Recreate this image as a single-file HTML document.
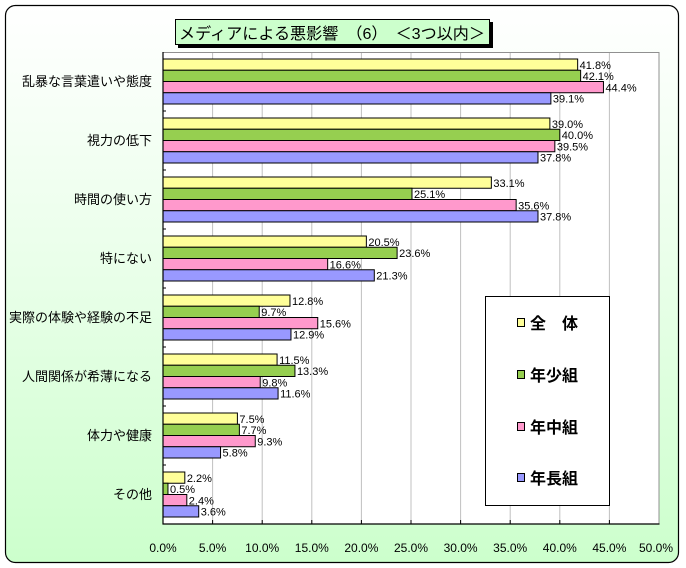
<!DOCTYPE html>
<html><head><meta charset="utf-8"><style>
html,body{margin:0;padding:0;background:#fff;}
svg{display:block;}
</style></head><body>
<svg width="686" height="568" viewBox="0 0 686 568" xmlns="http://www.w3.org/2000/svg">
<defs>
<linearGradient id="bg" x1="0" y1="0" x2="0" y2="1">
<stop offset="0" stop-color="#ffffff"/>
<stop offset="0.5" stop-color="#e8ffe8"/>
<stop offset="1" stop-color="#ccffcc"/>
</linearGradient>
</defs>
<rect x="0" y="0" width="686" height="568" fill="#fff"/>
<rect x="5.5" y="5.5" width="673" height="557" rx="10" ry="10" fill="url(#bg)" stroke="#000" stroke-width="1.2"/>

<!-- plot area -->
<rect x="163" y="52" width="496" height="472" fill="#fff"/>
<g stroke="#c0c0c0" stroke-width="1">
<line x1="212.6" y1="52" x2="212.6" y2="524"/>
<line x1="262.2" y1="52" x2="262.2" y2="524"/>
<line x1="311.8" y1="52" x2="311.8" y2="524"/>
<line x1="361.4" y1="52" x2="361.4" y2="524"/>
<line x1="411" y1="52" x2="411" y2="524"/>
<line x1="460.6" y1="52" x2="460.6" y2="524"/>
<line x1="510.2" y1="52" x2="510.2" y2="524"/>
<line x1="559.8" y1="52" x2="559.8" y2="524"/>
<line x1="609.4" y1="52" x2="609.4" y2="524"/>
</g>
<line x1="163" y1="52.5" x2="659" y2="52.5" stroke="#909090"/>
<line x1="659" y1="52" x2="659" y2="524" stroke="#909090"/>

<!-- legend -->
<rect x="485.5" y="296.5" width="124" height="209" fill="#fff" stroke="#000"/>
<g font-family="'Liberation Sans','Noto Sans CJK JP',sans-serif" font-size="16" font-weight="bold" fill="#000">
<rect x="517.5" y="318.5" width="7" height="8" fill="#ffff99" stroke="#000"/>
<text x="530" y="329">全　体</text>
<rect x="517.5" y="370.5" width="7" height="8" fill="#96cf50" stroke="#000"/>
<text x="530" y="381">年少組</text>
<rect x="517.5" y="422.5" width="7" height="8" fill="#ff99cc" stroke="#000"/>
<text x="530" y="433">年中組</text>
<rect x="517.5" y="473.5" width="7" height="8" fill="#9999ff" stroke="#000"/>
<text x="530" y="484">年長組</text>
</g>

<!-- bars -->
<g stroke="#000" stroke-width="1">
<g transform="translate(163,59)">
<rect x="0" y="0" width="414.66" height="11.25" fill="#ffff99"/>
<rect x="0" y="11.25" width="417.63" height="11.25" fill="#96cf50"/>
<rect x="0" y="22.5" width="440.45" height="11.25" fill="#ff99cc"/>
<rect x="0" y="33.75" width="387.87" height="11.25" fill="#9999ff"/>
</g>
<g transform="translate(163,118)">
<rect x="0" y="0" width="386.88" height="11.25" fill="#ffff99"/>
<rect x="0" y="11.25" width="396.8" height="11.25" fill="#96cf50"/>
<rect x="0" y="22.5" width="391.84" height="11.25" fill="#ff99cc"/>
<rect x="0" y="33.75" width="374.98" height="11.25" fill="#9999ff"/>
</g>
<g transform="translate(163,177)">
<rect x="0" y="0" width="328.35" height="11.25" fill="#ffff99"/>
<rect x="0" y="11.25" width="248.99" height="11.25" fill="#96cf50"/>
<rect x="0" y="22.5" width="353.15" height="11.25" fill="#ff99cc"/>
<rect x="0" y="33.75" width="374.98" height="11.25" fill="#9999ff"/>
</g>
<g transform="translate(163,236)">
<rect x="0" y="0" width="203.36" height="11.25" fill="#ffff99"/>
<rect x="0" y="11.25" width="234.11" height="11.25" fill="#96cf50"/>
<rect x="0" y="22.5" width="164.67" height="11.25" fill="#ff99cc"/>
<rect x="0" y="33.75" width="211.3" height="11.25" fill="#9999ff"/>
</g>
<g transform="translate(163,295)">
<rect x="0" y="0" width="126.98" height="11.25" fill="#ffff99"/>
<rect x="0" y="11.25" width="96.22" height="11.25" fill="#96cf50"/>
<rect x="0" y="22.5" width="154.75" height="11.25" fill="#ff99cc"/>
<rect x="0" y="33.75" width="127.97" height="11.25" fill="#9999ff"/>
</g>
<g transform="translate(163,354)">
<rect x="0" y="0" width="114.08" height="11.25" fill="#ffff99"/>
<rect x="0" y="11.25" width="131.94" height="11.25" fill="#96cf50"/>
<rect x="0" y="22.5" width="97.22" height="11.25" fill="#ff99cc"/>
<rect x="0" y="33.75" width="115.07" height="11.25" fill="#9999ff"/>
</g>
<g transform="translate(163,413)">
<rect x="0" y="0" width="74.4" height="11.25" fill="#ffff99"/>
<rect x="0" y="11.25" width="76.38" height="11.25" fill="#96cf50"/>
<rect x="0" y="22.5" width="92.26" height="11.25" fill="#ff99cc"/>
<rect x="0" y="33.75" width="57.54" height="11.25" fill="#9999ff"/>
</g>
<g transform="translate(163,472)">
<rect x="0" y="0" width="21.82" height="11.25" fill="#ffff99"/>
<rect x="0" y="11.25" width="4.96" height="11.25" fill="#96cf50"/>
<rect x="0" y="22.5" width="23.81" height="11.25" fill="#ff99cc"/>
<rect x="0" y="33.75" width="35.71" height="11.25" fill="#9999ff"/>
</g>
</g>

<!-- axes -->
<line x1="163" y1="52" x2="163" y2="524.5" stroke="#000" stroke-width="1.2"/>
<line x1="162.5" y1="524" x2="659.5" y2="524" stroke="#000" stroke-width="1.2"/>
<g stroke="#000" stroke-width="1">
<line x1="163" y1="111" x2="166" y2="111"/>
<line x1="163" y1="170" x2="166" y2="170"/>
<line x1="163" y1="229" x2="166" y2="229"/>
<line x1="163" y1="288" x2="166" y2="288"/>
<line x1="163" y1="347" x2="166" y2="347"/>
<line x1="163" y1="406" x2="166" y2="406"/>
<line x1="163" y1="465" x2="166" y2="465"/>
<line x1="212.6" y1="520" x2="212.6" y2="524"/>
<line x1="262.2" y1="520" x2="262.2" y2="524"/>
<line x1="311.8" y1="520" x2="311.8" y2="524"/>
<line x1="361.4" y1="520" x2="361.4" y2="524"/>
<line x1="411" y1="520" x2="411" y2="524"/>
<line x1="460.6" y1="520" x2="460.6" y2="524"/>
<line x1="510.2" y1="520" x2="510.2" y2="524"/>
<line x1="559.8" y1="520" x2="559.8" y2="524"/>
<line x1="609.4" y1="520" x2="609.4" y2="524"/>
</g>

<!-- value labels -->
<g font-family="'Liberation Sans',sans-serif" font-size="11" fill="#000">
<text x="579.66" y="68.8">41.8%</text>
<text x="582.63" y="80">42.1%</text>
<text x="605.45" y="91.3">44.4%</text>
<text x="552.87" y="102.5">39.1%</text>
<text x="551.88" y="127.8">39.0%</text>
<text x="561.8" y="139">40.0%</text>
<text x="556.84" y="150.3">39.5%</text>
<text x="539.98" y="161.5">37.8%</text>
<text x="493.35" y="186.8">33.1%</text>
<text x="413.99" y="198">25.1%</text>
<text x="518.15" y="209.3">35.6%</text>
<text x="539.98" y="220.5">37.8%</text>
<text x="368.36" y="245.8">20.5%</text>
<text x="399.11" y="257">23.6%</text>
<text x="329.67" y="268.3">16.6%</text>
<text x="376.3" y="279.5">21.3%</text>
<text x="291.98" y="304.8">12.8%</text>
<text x="261.22" y="316">9.7%</text>
<text x="319.75" y="327.3">15.6%</text>
<text x="292.97" y="338.5">12.9%</text>
<text x="279.08" y="363.8">11.5%</text>
<text x="296.94" y="375">13.3%</text>
<text x="262.22" y="386.3">9.8%</text>
<text x="280.07" y="397.5">11.6%</text>
<text x="239.4" y="422.8">7.5%</text>
<text x="241.38" y="434">7.7%</text>
<text x="257.26" y="445.3">9.3%</text>
<text x="222.54" y="456.5">5.8%</text>
<text x="186.82" y="481.8">2.2%</text>
<text x="169.96" y="493">0.5%</text>
<text x="188.81" y="504.3">2.4%</text>
<text x="200.71" y="515.5">3.6%</text>
</g>

<!-- category labels -->
<g font-family="'Liberation Sans','Noto Sans CJK JP',sans-serif" font-size="13" fill="#000" text-anchor="end">
<text x="152" y="86">乱暴な言葉遣いや態度</text>
<text x="152" y="145">視力の低下</text>
<text x="152" y="204">時間の使い方</text>
<text x="152" y="263">特にない</text>
<text x="152" y="322">実際の体験や経験の不足</text>
<text x="152" y="381">人間関係が希薄になる</text>
<text x="152" y="440">体力や健康</text>
<text x="152" y="499">その他</text>
</g>

<!-- x axis labels -->
<g font-family="'Liberation Sans',sans-serif" font-size="12" fill="#000" text-anchor="middle">
<text x="163" y="552">0.0%</text>
<text x="212.6" y="552">5.0%</text>
<text x="262.2" y="552">10.0%</text>
<text x="311.8" y="552">15.0%</text>
<text x="361.4" y="552">20.0%</text>
<text x="411" y="552">25.0%</text>
<text x="460.6" y="552">30.0%</text>
<text x="510.2" y="552">35.0%</text>
<text x="559.8" y="552">40.0%</text>
<text x="609.4" y="552">45.0%</text>
<text x="656" y="552">50.0%</text>
</g>

<!-- title -->
<rect x="178" y="22" width="315" height="26" fill="#000"/>
<rect x="175.5" y="19.5" width="314" height="25" fill="#ccffcc" stroke="#000"/>
<text x="179" y="39" font-family="'Liberation Sans','Noto Sans CJK JP',sans-serif" font-size="16" fill="#000" textLength="306" lengthAdjust="spacingAndGlyphs">メディアによる悪影響　（6）　＜3つ以内＞</text>
</svg>
</body></html>
